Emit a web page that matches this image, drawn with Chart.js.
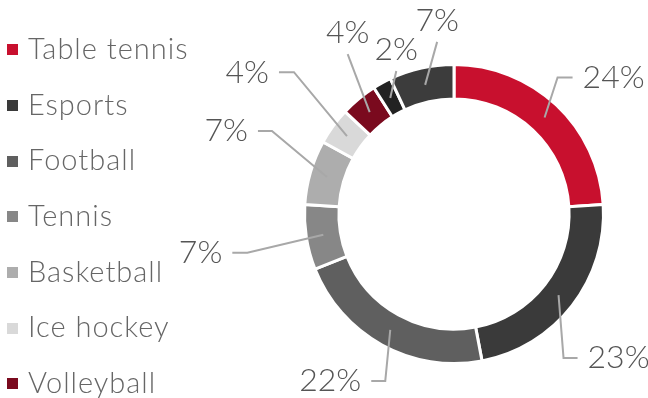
<!DOCTYPE html>
<html>
<head>
<meta charset="utf-8">
<script src="https://cdn.jsdelivr.net/npm/chart.js@4.4.1/dist/chart.umd.min.js"></script>
<style>
  html, body { margin: 0; padding: 0; background: #fff; }
  #wrap { position: relative; width: 648px; height: 398px; }
  #legend { position: absolute; left: 7px; top: 20px; margin: 0; padding: 0; list-style: none;
    font-family: Lato, "Open Sans", sans-serif; font-weight: 300; font-size: 29px; letter-spacing: 1px; color: #666; }
  #legend li { height: 55.7px; line-height: 55.7px; white-space: nowrap; }
  #legend span.box { display: inline-block; width: 11px; height: 11px; margin-right: 10px; vertical-align: middle; position: relative; top: -2px; }
</style>
</head>
<body>
<div id="wrap">
  <canvas id="sportsChart" width="648" height="398"></canvas>
  <ul id="legend"></ul>
</div>
<script>
const sports = ["Table tennis", "Esports", "Football", "Tennis", "Basketball", "Ice hockey", "Volleyball", "Other 1", "Other 2"];
const shares = [24, 23, 22, 7, 7, 4, 4, 2, 7];
const sliceColors = ["#C8102E", "#3A3A3A", "#5F5F5F", "#878787", "#ADADAD", "#D9D9D9", "#7A0A1E", "#222222", "#3C3C3C"];
const legendCount = 7;

// leader line layout per slice: elbow offset from slice middle, then horizontal run
const leaders = [
  { dx: 13, dy: -40, run: 15 },
  { dx: 5, dy: 63, run: 14 },
  { dx: -5, dy: 51, run: -14 },
  { dx: -76, dy: 18, run: -15 },
  { dx: -55, dy: -46, run: -14 },
  { dx: -53, dy: -64, run: -15 },
  { dx: -22, dy: -58, run: 0 },
  { dx: 6, dy: -27, run: 0 },
  { dx: 12, dy: -43, run: 0 },
];

const leaderLabels = {
  id: "leaderLabels",
  afterDatasetsDraw(chart) {
    const ctx = chart.ctx;
    const meta = chart.getDatasetMeta(0);
    ctx.save();
    ctx.font = "300 32px Lato, 'Open Sans', sans-serif";
    ctx.fillStyle = "#555";
    ctx.strokeStyle = "#A8A8A8";
    ctx.lineWidth = 2;
    meta.data.forEach((arc, i) => {
      const p = arc.getProps(["x", "y", "startAngle", "endAngle", "innerRadius", "outerRadius"], true);
      const mid = (p.startAngle + p.endAngle) / 2;
      const r = (p.innerRadius + p.outerRadius) / 2;
      const sx = p.x + Math.cos(mid) * r;
      const sy = p.y + Math.sin(mid) * r;
      const l = leaders[i];
      const ex = sx + l.dx, ey = sy + l.dy;
      ctx.beginPath();
      ctx.moveTo(sx, sy);
      ctx.lineTo(ex, ey);
      if (l.run) ctx.lineTo(ex + l.run, ey);
      ctx.stroke();
      const text = shares[i] + "%";
      if (l.run > 0) {
        ctx.textAlign = "left"; ctx.textBaseline = "middle";
        ctx.fillText(text, ex + l.run + 10, ey);
      } else if (l.run < 0) {
        ctx.textAlign = "right"; ctx.textBaseline = "middle";
        ctx.fillText(text, ex + l.run - 10, ey);
      } else {
        ctx.textAlign = "center"; ctx.textBaseline = "middle";
        ctx.fillText(text, ex, ey - 21);
      }
    });
    ctx.restore();
  }
};

const htmlLegend = {
  id: "htmlLegend",
  afterUpdate(chart) {
    const ul = document.getElementById("legend");
    ul.innerHTML = "";
    const items = chart.options.plugins.legend.labels.generateLabels(chart);
    items.slice(0, legendCount).forEach((item) => {
      const li = document.createElement("li");
      const box = document.createElement("span");
      box.className = "box";
      box.style.background = item.fillStyle;
      li.appendChild(box);
      li.appendChild(document.createTextNode(item.text));
      ul.appendChild(li);
    });
  }
};

new Chart(document.getElementById("sportsChart"), {
  type: "doughnut",
  data: {
    labels: sports,
    datasets: [{
      data: shares,
      backgroundColor: sliceColors,
      borderColor: "#fff",
      borderWidth: 3,
      hoverOffset: 0,
    }],
  },
  options: {
    responsive: false,
    animation: false,
    cutout: "77%",
    layout: { padding: { left: 303, right: 43, top: 63, bottom: 33 } },
    plugins: {
      legend: { display: false },
      tooltip: { enabled: false },
    },
  },
  plugins: [leaderLabels, htmlLegend],
});
</script>
</body>
</html>
